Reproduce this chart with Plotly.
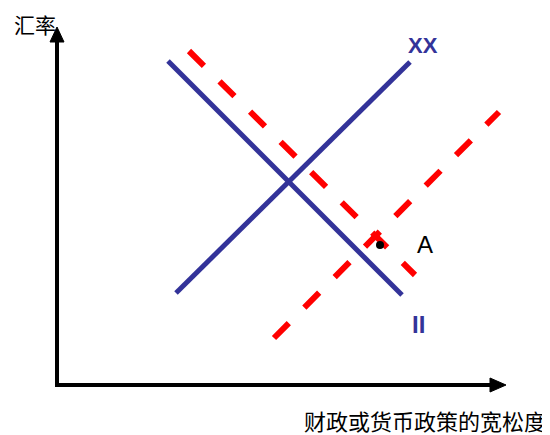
import plotly.graph_objects as go

# Conceptual line endpoints (chart coordinates, y grows downward)
ii_x = [168, 402]
ii_y = [61, 295]
xx_x = [176, 410]
xx_y = [293, 62]
ii2_x = [189, 415]
ii2_y = [51, 275]
xx2_x = [274, 499]
xx2_y = [338, 112]
point_a = (380, 245)

y_axis_x = [57, 57]
y_axis_y = [386, 40]
x_axis_x = [55, 492]
x_axis_y = [385, 385]

labels = {
    "y_title": "汇率",
    "x_title": "财政或货币政策的宽松度",
    "xx": "XX",
    "ii": "II",
    "a": "A",
}

BLUE = "#333399"
RED = "#FF0000"
OFF = 8  # page body margin

fig = go.Figure()

# axes
fig.add_trace(go.Scatter(x=y_axis_x, y=y_axis_y, mode="lines",
                         line=dict(color="black", width=4), hoverinfo="skip"))
fig.add_trace(go.Scatter(x=x_axis_x, y=x_axis_y, mode="lines",
                         line=dict(color="black", width=4), hoverinfo="skip"))
# arrow heads
fig.add_trace(go.Scatter(x=[50, 64, 57, 50], y=[42, 42, 27, 42], mode="lines",
                         fill="toself", fillcolor="black",
                         line=dict(color="black", width=1), hoverinfo="skip"))
fig.add_trace(go.Scatter(x=[490, 490, 506, 490], y=[378, 392, 385, 378], mode="lines",
                         fill="toself", fillcolor="black",
                         line=dict(color="black", width=1), hoverinfo="skip"))

# blue solid lines
fig.add_trace(go.Scatter(x=ii_x, y=ii_y, mode="lines",
                         line=dict(color=BLUE, width=5), hoverinfo="skip"))
fig.add_trace(go.Scatter(x=xx_x, y=xx_y, mode="lines",
                         line=dict(color=BLUE, width=5), hoverinfo="skip"))
# red dashed lines
fig.add_trace(go.Scatter(x=ii2_x, y=ii2_y, mode="lines",
                         line=dict(color=RED, width=6, dash="21px,22px"), hoverinfo="skip"))
fig.add_trace(go.Scatter(x=xx2_x, y=xx2_y, mode="lines",
                         line=dict(color=RED, width=6, dash="21px,22px"), hoverinfo="skip"))

# point A
fig.add_trace(go.Scatter(x=[point_a[0]], y=[point_a[1]], mode="markers",
                         marker=dict(color="black", size=8), hoverinfo="skip"))

cjk = "Noto Sans CJK SC"
fig.add_annotation(x=12, y=24, text=labels["y_title"], showarrow=False,
                   xanchor="left", yanchor="middle",
                   font=dict(family=cjk, size=21, color="black"))
fig.add_annotation(x=548, y=420, text=labels["x_title"], showarrow=False,
                   xanchor="right", yanchor="middle",
                   font=dict(family=cjk, size=22, color="black"))
fig.add_annotation(x=423, y=45, text="<b>" + labels["xx"] + "</b>", showarrow=False,
                   xanchor="center", yanchor="middle",
                   font=dict(family="Liberation Sans", size=22, color=BLUE))
fig.add_annotation(x=418, y=324, text="<b>" + labels["ii"] + "</b>", showarrow=False,
                   xanchor="center", yanchor="middle",
                   font=dict(family="Liberation Sans", size=24, color=BLUE))
fig.add_annotation(x=425, y=244, text=labels["a"], showarrow=False,
                   xanchor="center", yanchor="middle",
                   font=dict(family="Liberation Sans", size=24, color="black"))

fig.update_layout(
    width=550 - OFF, height=435 - OFF,
    margin=dict(l=0, r=0, t=0, b=0),
    paper_bgcolor="white", plot_bgcolor="white",
    showlegend=False,
    xaxis=dict(range=[OFF, 550], visible=False, fixedrange=True),
    yaxis=dict(range=[435, OFF], visible=False, fixedrange=True),
)

fig.write_html("out.html")
